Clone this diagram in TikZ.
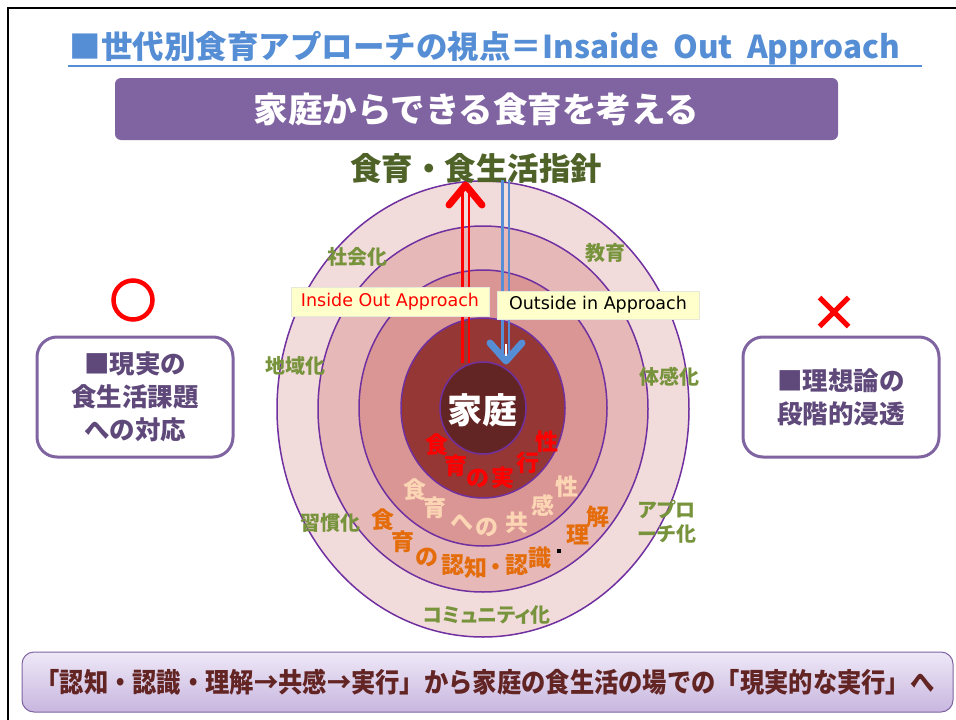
\documentclass[tikz,border=0pt]{standalone}
\usepackage{fontspec}
\usepackage{graphicx}
\usetikzlibrary{shapes.geometric,shapes.misc}
\newfontfamily\jp{Noto Sans CJK JP}
\newfontfamily\jpp{Noto Sans CJK JP}[RawFeature=+palt]
\newfontfamily\dv{DejaVu Sans}
\definecolor{titleblue}{HTML}{558ED5}
\definecolor{bannerpurple}{HTML}{8064A2}
\definecolor{headolive}{HTML}{4F6228}
\definecolor{ringgreen}{HTML}{77933C}
\definecolor{boxtext}{HTML}{5F497A}
\definecolor{ringA}{HTML}{F2DCDB}
\definecolor{ringB}{HTML}{E6B9B8}
\definecolor{ringC}{HTML}{D99694}
\definecolor{ringD}{HTML}{953735}
\definecolor{ringE}{HTML}{632523}
\definecolor{ringline}{HTML}{7030A0}
\definecolor{orangetxt}{HTML}{E46C0A}
\definecolor{peachtxt}{HTML}{FCD5B5}
\definecolor{bottomtxt}{HTML}{632523}
\definecolor{gradtop}{HTML}{EEE8F7}
\definecolor{gradbot}{HTML}{C8B6DF}
\definecolor{lblfill}{HTML}{FFFFCC}
\definecolor{lbledge}{HTML}{E8E8D8}
\begin{document}
\begin{tikzpicture}[x=1pt,y=-1pt,
  ringnode/.style={ellipse, draw=ringline, line width=1.5pt, inner sep=0pt},
  ringlbl/.style={text=ringgreen, font=\jpp\bfseries\fontsize{20}{24}\selectfont, inner sep=0pt, align=center},
  arcred/.style={text=red, font=\jp\bfseries\fontsize{23}{23}\selectfont, inner sep=0pt},
  arcpeach/.style={text=peachtxt, font=\jp\bfseries\fontsize{23}{23}\selectfont, inner sep=0pt},
  arcorange/.style={text=orangetxt, font=\jpp\bfseries\fontsize{23}{23}\selectfont, inner sep=0pt},
  sidebox/.style={draw=bannerpurple, line width=3pt, rounded corners=20pt, fill=white,
     minimum width=196pt, minimum height=120pt, align=center, text=boxtext,
     font=\jp\bfseries\fontsize{25.5}{33}\selectfont},
  apprlbl/.style={fill=lblfill, draw=lbledge, line width=0.8pt, inner sep=0pt,
     font=\dv\fontsize{17.5}{17.5}\selectfont},
  redline/.style={draw=red, line width=2.6pt},
  blueline/.style={draw=titleblue, line width=2.6pt},
  chevron/.style={line width=7pt, line cap=round, line join=round}
]
\useasboundingbox (0,0) rectangle (956,720);
\fill[white] (0,0) rectangle (956,720);

% frame
\coordinate (fbl) at (8,720);
\coordinate (ftl) at (8,8);
\coordinate (ftr) at (956,8);
\draw[line width=1.6pt] (fbl) -- (ftl) -- (ftr);

% title
\node[text=titleblue, font=\jp\bfseries\fontsize{31.5}{31.5}\selectfont, inner sep=0pt] (title) at (485,48)
  {■世代別食育アプローチの視点＝Insaide~~Out~~Approach};
\coordinate (ulA) at (68,66);
\coordinate (ulB) at (922,66);
\draw[titleblue, line width=2.5pt] (ulA) -- (ulB);

% purple banner
\node[fill=bannerpurple, rounded corners=6pt, minimum width=723pt, minimum height=62pt, inner sep=0pt,
  text=white, font=\jp\bfseries\fontsize{34.5}{34.5}\selectfont] (banner) at (476.5,109) {家庭からできる食育を考える};

% rings
\node[ringnode, fill=ringA, minimum width=412pt, minimum height=456pt] (e1) at (483,409) {};
\node[ringnode, fill=ringB, minimum width=330pt, minimum height=366pt] (e2) at (483,409) {};
\node[ringnode, fill=ringC, minimum width=248pt, minimum height=276pt] (e3) at (483,408) {};
\node[ringnode, fill=ringD, minimum width=164pt, minimum height=180pt] (e4) at (483,408) {};
\node[ringnode, fill=ringE, minimum width=86pt, minimum height=92pt] (e5) at (483,408) {};

% heading
\node[text=headolive, font=\jp\bfseries\fontsize{31.5}{31.5}\selectfont, inner sep=0pt] (head) at (476,168) {食育・食生活指針};

% red (inside out) arrow
\coordinate (rA1) at (462.5,363);
\coordinate (rA2) at (462.5,188);
\coordinate (rB1) at (469,363);
\coordinate (rB2) at (469,188);
\coordinate (rhL) at (449,205);
\coordinate (rhT) at (465.5,185);
\coordinate (rhR) at (482,205);
\draw[redline] (rA1) -- (rA2);
\draw[redline] (rB1) -- (rB2);
\draw[chevron, red] (rhL) -- (rhT) -- (rhR);

% blue (outside in) arrow
\coordinate (bA1) at (502.5,180);
\coordinate (bA2) at (502.5,356);
\coordinate (bB1) at (509,180);
\coordinate (bB2) at (509,356);
\coordinate (bhL) at (490,343);
\coordinate (bhT) at (506,361);
\coordinate (bhR) at (522,343);
\coordinate (bwA) at (505.75,344);
\coordinate (bwB) at (505.75,356);
\draw[blueline] (bA1) -- (bA2);
\draw[blueline] (bB1) -- (bB2);
\draw[chevron, titleblue] (bhL) -- (bhT) -- (bhR);
\draw[white, line width=1.6pt] (bwA) -- (bwB);

% approach labels
\node[apprlbl, text=red, minimum width=198pt, minimum height=29pt] (inl) at (390,301.5) {Inside Out Approach};
\node[apprlbl, text=black, minimum width=202pt, minimum height=28pt] (outl) at (598,305) {Outside in Approach};

% centre
\node[text=white, font=\jp\bfseries\fontsize{35}{35}\selectfont, inner sep=0pt] (home) at (482,410) {家庭};

% arc texts
\foreach \c/\x/\y [count=\i] in {食/437/445, 育/456/466, の/478/478, 実/503/478, 行/528/463, 性/547/442}
  \node[arcred] (r\i) at (\x,\y) {\c};
\foreach \c/\x/\y [count=\i] in {食/415/490, 育/435/508, へ/462/522, の/487/527, 共/517/523, 感/543/505, 性/567/487}
  \node[arcpeach] (p\i) at (\x,\y) {\c};
\foreach \c/\x/\y [count=\i] in {食/383/520, 育/403/542, の/427/557, 認/453/565, 知/476/568, ・/496/570, 認/517/565, 識/540/558, 理/578/535, 解/598/517}
  \node[arcorange] (o\i) at (\x,\y) {\c};
\node[fill=black, minimum size=3.5pt, inner sep=0pt] (dot) at (559,551) {};

% ring labels
\node[ringlbl] (l1) at (357,257) {社会化};
\node[ringlbl] (l2) at (605,253) {教育};
\node[ringlbl] (l3) at (295,366) {地域化};
\node[ringlbl] (l4) at (669,377) {体感化};
\node[ringlbl] (l5) at (330,523) {習慣化};
\node[ringlbl] (l6) at (667,522) {アプロ\\ーチ化};
\node[ringlbl] (l7) at (487,615) {コミュニティ化};

% side boxes
\node[draw=red, circle, line width=4.5pt, minimum size=39pt, inner sep=0pt] (okmark) at (133,300) {};
\node[sidebox] (lbox) at (135,397) {■現実の\\食生活課題\\への対応};
\node[draw=red, cross out, line width=5pt, minimum size=24pt, inner sep=0pt] (ngmark) at (834,312) {};
\node[sidebox] (rbox) at (841,397) {■理想論の\\段階的浸透};

% bottom banner
\node[draw=bannerpurple, line width=1pt, rounded corners=12pt, top color=gradtop, bottom color=gradbot,
  minimum width=931pt, minimum height=60pt, inner sep=0pt] (bb) at (487.5,682) {};
\node[text=bottomtxt, font=\jp\bfseries\fontsize{27}{27}\selectfont, inner sep=0pt] (bbt) at (485,682)
  {\scalebox{0.9}[1]{「認知・認識・理解→共感→実行」から家庭の食生活の場での「現実的な実行」へ}};
\end{tikzpicture}
\end{document}
